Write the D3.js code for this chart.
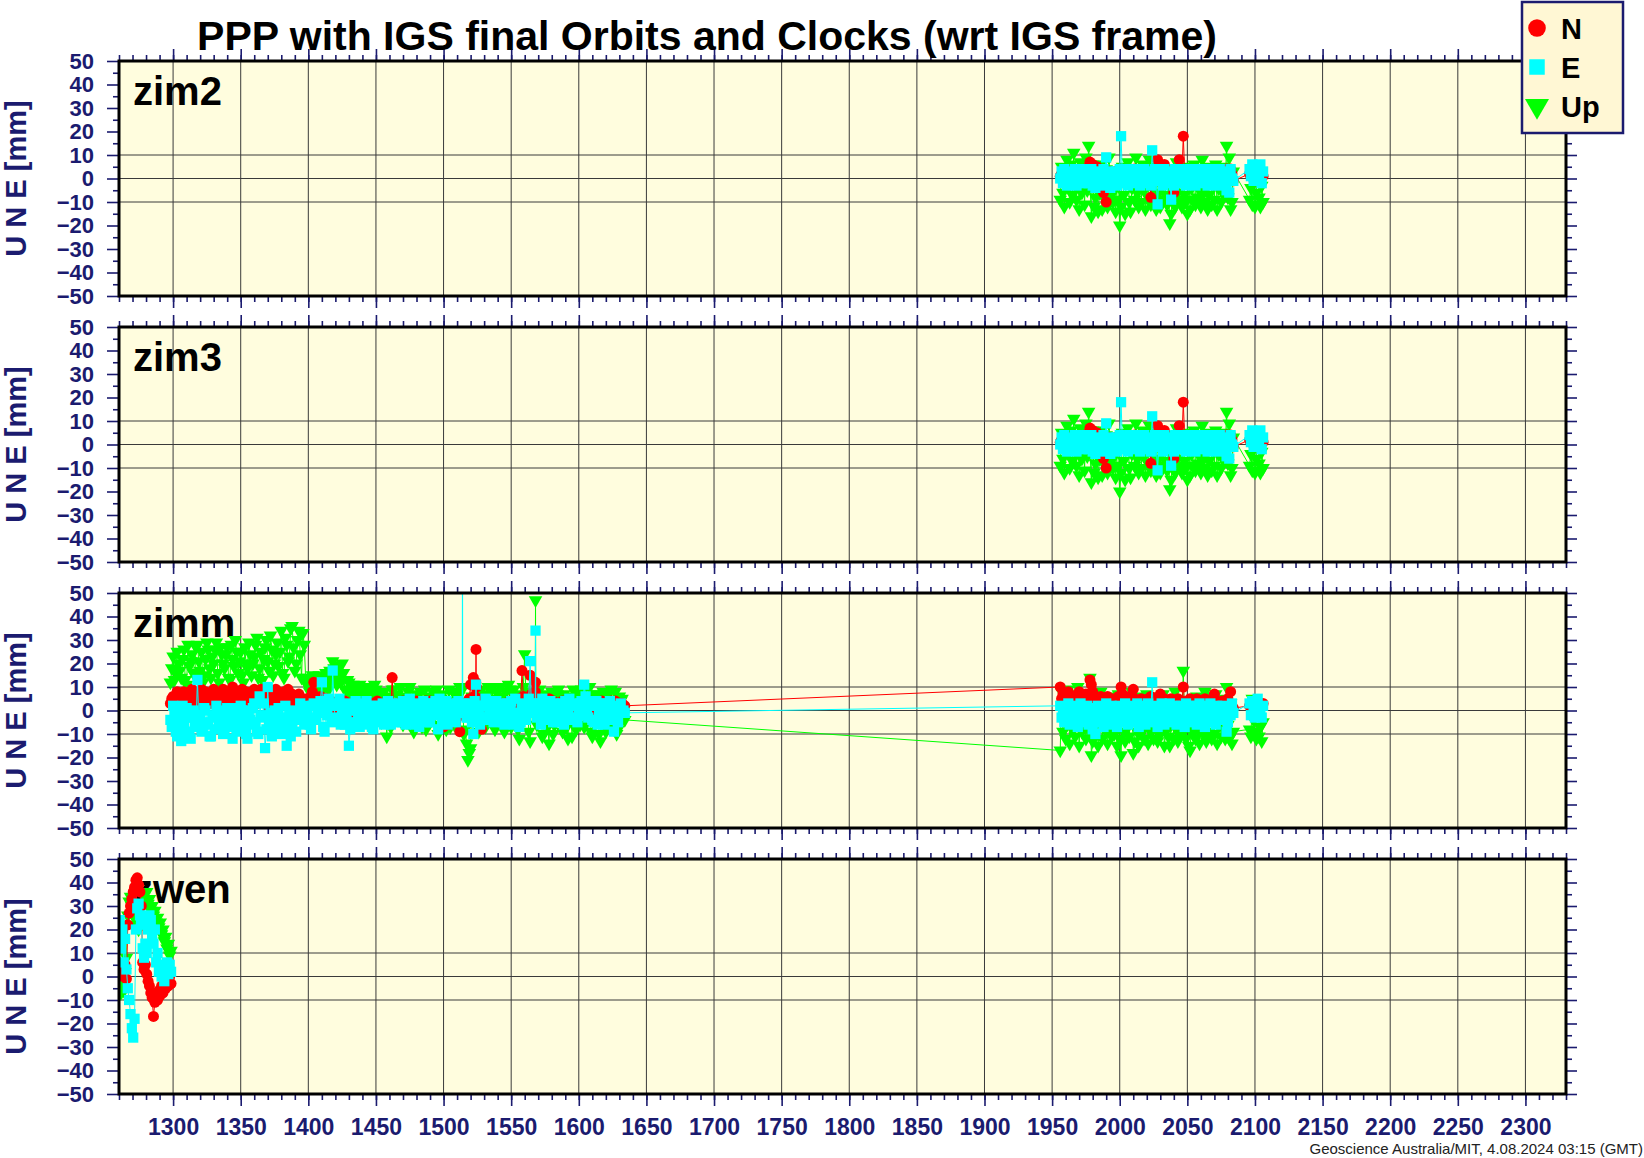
<!DOCTYPE html>
<html>
<head>
<meta charset="utf-8">
<script src="https://cdn.jsdelivr.net/npm/d3@7"></script>
<style>
  body { margin: 0; background: #fff; }
  svg { display: block; }
  text { font-family: "Liberation Sans", Arial, Helvetica, sans-serif; }
</style>
</head>
<body>
<div id="chart"></div>
<script>
// ---- data (GPS week, mm) ----
const stationNames = ['zim2', 'zim3', 'zimm', 'zwen'];
const legendLabels = ['N', 'E', 'Up'];
const xTicks = [1300, 1350, 1400, 1450, 1500, 1550, 1600, 1650, 1700, 1750, 1800, 1850, 1900, 1950, 2000, 2050, 2100, 2150, 2200, 2250, 2300];
const yTicks = [-50, -40, -30, -20, -10, 0, 10, 20, 30, 40, 50];
const yGrid = [-10, 0, 10];

// zim2 / zim3 (same series); these weeks are also the late zimm block
const zimWeeks = [1956, 1957, 1958, 1959, 1960, 1961, 1962, 1963, 1964, 1965,
  1966, 1967, 1968, 1969, 1970, 1971, 1972, 1973, 1974, 1975,
  1976, 1977, 1978, 1979, 1980, 1981, 1982, 1983, 1984, 1985,
  1986, 1987, 1988, 1989, 1990, 1991, 1992, 1993, 1994, 1995,
  1996, 1997, 1998, 1999, 2000, 2001, 2002, 2003, 2004, 2005,
  2006, 2007, 2008, 2009, 2010, 2011, 2012, 2013, 2014, 2015,
  2016, 2017, 2018, 2019, 2020, 2021, 2022, 2023, 2024, 2025,
  2026, 2027, 2028, 2029, 2030, 2031, 2032, 2033, 2034, 2035,
  2036, 2037, 2038, 2039, 2040, 2041, 2042, 2043, 2044, 2045,
  2046, 2047, 2048, 2049, 2050, 2051, 2052, 2053, 2054, 2055,
  2056, 2057, 2058, 2059, 2060, 2061, 2062, 2063, 2064, 2065,
  2066, 2067, 2068, 2069, 2070, 2071, 2072, 2073, 2074, 2075,
  2076, 2077, 2078, 2079, 2080, 2081, 2082, 2083, 2084,
  2096, 2097, 2098, 2099, 2100, 2101, 2102, 2103, 2104, 2105, 2106];
const zimN = [1, 2, 0, 3, 1, 2, 0, 3, -1, 2,
  0, 3, 1, 2, -1, 3, 0, 2, 1, 4,
  2, 5, 7, 3, 6, 4, 2, 5, 3, 1,
  2, 0, -6, 3, -10, 1, 2, 3, 0, 2,
  1, 3, 0, 2, 4, 3, 1, 2, 0, 3,
  2, 1, 3, 0, 2, 4, 1, 3, 2, 0,
  3, 1, 2, 0, 3, 1, 2, -8, 2, 1,
  3, 0, 8, 2, 1, 3, 2, 6, 1, 3,
  2, 0, 1, 3, -6, 2, 1, 3, 8, 4,
  2, 18, 3, 1, 2, 0, 3, 1, 2, 0,
  1, 3, 2, 0, 2, -1, 3, 1, 2, 0,
  3, 1, 2, 0, 3, 2, 1, 0, 2, 3,
  1, 3, 0, 4, 2, 1, 4, 2, -1,
  2, 1, 3, 0, 1, 2, 3, 1, 0, 2, 1];
const zimE = [0, 3, -2, 4, 1, -3, 2, -1, 3, -2,
  1, 4, -3, 2, 0, 3, -2, 4, -1, 1,
  3, -2, 0, 4, -3, 2, -4, 1, 3, -1,
  2, -3, 4, 0, 9, -2, 3, -4, 1, 2,
  -1, 3, -3, 2, 4, 18, 0, -2, 3, 1,
  -3, 4, 0, 2, -2, 3, -1, 4, 1, -3,
  2, 0, 4, -2, 3, -1, 1, -3, 12, 2,
  4, -1, -11, 3, 0, 2, -3, 4, 1, -2,
  3, 0, -9, 2, -3, 4, 1, -1, 3, -2,
  2, 4, 0, -3, 3, 1, -2, 4, 0, 2,
  -3, 3, 1, -2, 4, 0, 2, -1, 3, -3,
  1, 4, -2, 2, 0, 3, -3, 1, 4, -1,
  2, -2, 3, -5, 1, -6, 4, 0, -1,
  4, 1, 6, -1, 3, 5, 0, 2, 6, -2, 3];
const zimU = [-9, 5, -6, -12, 2, 8, -4, -10, 6, -7,
  11, -3, -9, 4, -13, 7, -6, 1, -11, 9,
  -5, 14, -2, -16, 6, -12, -8, 3, -14, -6,
  6, -13, -3, -9, 4, -12, 9, -7, 3, -10,
  -5, -14, 2, -9, -20, -12, 5, -7, -15, 4,
  7, -10, -14, -4, 2, -9, 9, -6, -12, 3,
  -10, 6, -5, -13, 2, -8, 8, -11, -4, 5,
  -8, -13, 3, -6, -12, 5, -9, 4, -7, -11,
  -2, -19, -15, -8, 2, -12, 7, -6, -9, 4,
  -12, 2, -7, -10, -15, 5, -13, -4, -9, 6,
  -11, 3, -8, -5, -12, 8, -6, -10, 4, -13,
  -7, 5, -11, -3, -9, 6, -13, -4, 2, -10,
  5, -7, -3, 14, -8, 9, -13, -10, 3,
  -9, -4, -11, 2, -12, -6, 4, -8, -12, -3, -10];

// zimm, early block, even weeks (GPS weeks 1298-1634)
const zimmEarlyWeeks = [1298, 1300, 1302, 1304, 1306, 1308, 1310, 1312, 1314, 1316,
  1318, 1320, 1322, 1324, 1326, 1328, 1330, 1332, 1334, 1336,
  1338, 1340, 1342, 1344, 1346, 1348, 1350, 1352, 1354, 1356,
  1358, 1360, 1362, 1364, 1366, 1368, 1370, 1372, 1374, 1376,
  1378, 1380, 1382, 1384, 1386, 1388, 1390, 1392, 1394, 1396,
  1398, 1400, 1402, 1404, 1406, 1408, 1410, 1412, 1414, 1416,
  1418, 1420, 1422, 1424, 1426, 1428, 1430, 1432, 1434, 1436,
  1438, 1440, 1442, 1444, 1446, 1448, 1450, 1452, 1454, 1456,
  1458, 1460, 1462, 1464, 1466, 1468, 1470, 1472, 1474, 1476,
  1478, 1480, 1482, 1484, 1486, 1488, 1490, 1492, 1494, 1496,
  1498, 1500, 1502, 1504, 1506, 1508, 1510, 1512, 1513.8, 1514, 1514.2, 1516,
  1518, 1520, 1522, 1523.8, 1524, 1524.2, 1526, 1528, 1530, 1532, 1534, 1536,
  1538, 1540, 1542, 1544, 1546, 1548, 1550, 1552, 1554, 1556,
  1558, 1560, 1562, 1564, 1566, 1567.8, 1568, 1568.2, 1570, 1572, 1574, 1576,
  1578, 1580, 1582, 1584, 1586, 1588, 1590, 1592, 1594, 1596,
  1598, 1600, 1602, 1604, 1606, 1608, 1610, 1612, 1614, 1616,
  1618, 1620, 1622, 1624, 1626, 1628, 1630, 1632, 1634];
const zimmEarlyN = [3, 6, 2, 7, 4, 8, 3, 6, 9, 5,
  2, 7, 4, 8, 6, 3, 9, 5, 7, 2,
  8, 4, 6, 10, 3, 7, 5, 2, 8, 6,
  4, 9, 3, 7, 5, 8, 2, 6, 4, 9,
  5, 3, 8, 6, 2, 7, 4, 6, 3, 5,
  2, 4, 6, 12, 3, 5, 2, 4, 1, 3,
  2, 0, 3, 1, -1, 2, 0, 3, 1, 2,
  0, 3, 1, 2, 0, 3, 1, 2, 0, 3,
  1, 2, 14, 3, 0, 2, 4, 1, 3, 0,
  2, 4, 1, 3, 0, 2, 4, 1, 3, 0,
  2, -7, 1, -6, 3, 0, 2, -9, 2, 3, 3, 1,
  4, 11, 14, 12, 26, 10, 5, -8, 2, 0, 3, 1,
  2, -2, 1, 3, 0, -4, 2, -4, 3, 5,
  17, 5, 4, 15, 6, 8, 12, 5, 2, 3, 1, 4,
  5, 4, 2, 3, 1, 4, 0, 2, 3, 1,
  2, 0, 3, 1, 2, 4, 1, 3, 2, 0,
  3, 1, 2, 4, 1, 3, 2, 3, 2];
const zimmEarlyE = [-4, 2, -9, -1, -13, -6, 1, -10, -3, -7,
  13, -2, -8, 0, -5, -11, -3, 2, -7, -1,
  -9, 1, -5, -12, -2, -7, 2, -4, -10, 0,
  -6, 3, -9, 6, -3, -16, 10, -1, -7, -4,
  1, -10, -5, -15, -2, -8, 0, -4, 3, -3,
  -4, 2, -8, 3, -3, 1, 12, -9, -2, 3,
  17, -4, 2, -6, 1, -3, -15, 2, -5, 0,
  -7, 3, -2, -6, 1, -8, 2, -4, 1, -6,
  0, -3, 3, -5, 1, -2, 4, -6, 0, 2,
  -4, 3, -7, 1, -2, 3, -5, 0, 4, -8,
  1, -3, 4, -2, 2, -4, 3, 1, 2, 75, 1, 2,
  -3, 1, -10, 2, 11, -1, -2, 2, -4, 3, -2, 4,
  -3, 0, 2, -5, 3, -2, 4, -6, -3, -7,
  3, -2, 1, 21, 0, 3, 34, 1, -2, -6, 2, -4,
  1, -2, 3, -5, 0, -3, 4, -1, 2, -4,
  3, -1, 4, 11, -2, 4, -4, 2, -6, 1,
  -3, 3, -2, 1, -9, -2, 2, -1, -1];
const zimmEarlyU = [12, 23, 16, 20, 14, 26, 11, 19, 24, 15,
  28, 17, 12, 22, 26, 14, 20, 29, 12, 24,
  18, 27, 13, 22, 30, 16, 25, 12, 20, 29,
  15, 23, 31, 18, 13, 27, 21, 32, 15, 24,
  19, 34, 14, 28, 23, 36, 17, 30, 24, 33,
  14, 10, 13, 8, 12, 15, 9, 13, 11, 17,
  21, 14, 19, 12, 16, 9, 12, 6, 10, 7,
  11, 5, 8, 4, 10, 6, 9, 3, -5, 8,
  -11, 5, 9, -4, 7, 10, -6, 4, 8, -3,
  -9, 7, 2, -7, 9, 3, -5, 8, 6, -10,
  5, -3, -8, 9, 2, -6, 7, 10, 9, 3, 2, -8,
  -21, -16, 4, 3, 2, 6, -9, 9, -6, 7, -4, 10,
  -8, 5, 10, -5, 8, 11, -7, 9, 4, -12,
  6, 24, 8, -13, 5, 6, 47, 4, 3, 5, -10, 7,
  -14, 8, -6, 7, 3, -9, 6, -12, 4, 9,
  -8, 6, 9, -7, 3, 10, -11, 5, 7, -13,
  8, -9, 4, 9, -6, -10, 6, 5, -4];

// zimm, early block, odd weeks (1299-1633)
const zimmOddWeeks = [1299, 1301, 1303, 1305, 1307, 1309, 1311, 1313, 1315, 1317,
  1319, 1321, 1323, 1325, 1327, 1329, 1331, 1333, 1335, 1337,
  1339, 1341, 1343, 1345, 1347, 1349, 1351, 1353, 1355, 1357,
  1359, 1361, 1363, 1365, 1367, 1369, 1371, 1373, 1375, 1377,
  1379, 1381, 1383, 1385, 1387, 1389, 1391, 1393, 1395, 1397,
  1399, 1401, 1403, 1405, 1407, 1409, 1411, 1413, 1415, 1417,
  1419, 1421, 1423, 1425, 1427, 1429, 1431, 1433, 1435, 1437,
  1439, 1441, 1443, 1445, 1447, 1449, 1451, 1453, 1455, 1457,
  1459, 1461, 1463, 1465, 1467, 1469, 1471, 1473, 1475, 1477,
  1479, 1481, 1483, 1485, 1487, 1489, 1491, 1493, 1495, 1497,
  1499, 1501, 1503, 1505, 1507, 1509, 1511, 1513, 1515, 1517,
  1519, 1521, 1523, 1525, 1527, 1529, 1531, 1533, 1535, 1537,
  1539, 1541, 1543, 1545, 1547, 1549, 1551, 1553, 1555, 1557,
  1559, 1561, 1563, 1565, 1567, 1569, 1571, 1573, 1575, 1577,
  1579, 1581, 1583, 1585, 1587, 1589, 1591, 1593, 1595, 1597,
  1599, 1601, 1603, 1605, 1607, 1609, 1611, 1613, 1615, 1617,
  1619, 1621, 1623, 1625, 1627, 1629, 1631, 1633];
const zimmOddN = [5, 4, 8, 3, 6, 2, 7, 4, 8, 3,
  6, 9, 3, 5, 7, 4, 8, 6, 3, 9,
  5, 7, 3, 8, 6, 4, 9, 3, 7, 5,
  8, 3, 6, 9, 4, 7, 5, 3, 8, 6,
  4, 7, 3, 9, 5, 6, 3, 7, 4, 2,
  5, 3, 8, 4, 2, 6, 3, 5, 2, 4,
  1, 3, 0, 2, 4, 1, -1, 3, 0, 2,
  2, 0, 3, 1, -1, 2, 4, 0, 2, 1,
  3, 0, 2, 1, 3, -1, 2, 4, 0, 2,
  1, 3, 0, 2, 4, 1, -1, 3, 2, 0,
  3, 1, -4, 2, 0, 3, 1, -2, 2, 3,
  5, 3, 6, 2, 1, -3, 3, 1, -1, 2,
  0, 3, 1, -1, 2, 4, 0, 2, -2, 4,
  6, 3, 4, 7, 3, 1, 2, 4, 0, 3,
  2, 4, 1, 3, 0, 2, 4, 1, 3, 2,
  0, 3, 1, 4, 2, 0, 3, 1, 2, 4,
  1, 3, 0, 2, 4, 1, 3, 2];
const zimmOddE = [-7, 0, -11, -5, 2, -9, -3, -12, 0, -6,
  -4, -9, 1, -6, -11, -2, -8, 0, -5, -10,
  -1, -7, -3, 1, -9, -5, 0, -8, -12, -4,
  1, -5, -10, -2, 3, -8, -4, -11, 0, -6,
  -3, -8, 2, -6, -11, -1, -9, -4, 1, -6,
  0, -6, 2, -4, -1, 4, -7, 0, 5, -5,
  2, -3, 5, -1, -6, 3, -8, 0, 4, -4,
  1, -5, 4, -3, -7, 2, 0, -5, 3, -2,
  4, -6, 2, -1, 3, -5, 1, -3, 5, -2,
  -6, 2, -3, 4, -1, -5, 3, -2, 1, 5,
  -4, 2, -6, 3, 0, -5, 4, -1, 3, -3,
  3, -5, 4, -1, -6, 2, 5, -3, 1, -5,
  4, -2, 1, -6, 3, 0, -4, 5, -1, -5,
  2, -4, 5, -1, 3, -3, 2, 5, -4, 0,
  4, -5, 2, -1, 3, -6, 1, 5, -3, 2,
  -5, 3, 0, 6, -3, 2, -5, 4, -1, 3,
  -6, 2, 4, -4, 1, -5, 3, 0];
const zimmOddU = [18, 13, 25, 17, 22, 13, 28, 21, 16, 27,
  21, 25, 15, 29, 18, 23, 26, 16, 27, 20,
  24, 14, 28, 19, 25, 21, 15, 27, 18, 24,
  20, 28, 14, 25, 22, 30, 17, 26, 20, 29,
  25, 16, 31, 21, 35, 27, 20, 34, 14, 28,
  11, 8, 15, 10, 14, 7, 12, 16, 9, 13,
  18, 11, 15, 20, 9, 13, 8, 11, 5, 9,
  7, 10, 2, 8, 5, 11, 1, 7, -3, 6,
  3, -7, 9, 2, -2, 6, 1, -5, 10, -1,
  5, -4, 8, 0, -8, 6, 3, -2, 9, -6,
  7, 0, 4, -7, 8, -3, 6, 1, -10, -14,
  -18, 6, 1, 8, -4, 5, -7, 10, 2, -5,
  8, -3, 6, -9, 4, 9, -4, 7, -8, 2,
  10, 3, -9, 7, 8, -6, 9, -11, 2, -7,
  6, -10, 4, 9, -4, 7, -7, 3, -11, 8,
  2, -6, 8, -3, 5, -9, 7, 1, -10, 6,
  -5, 7, -7, 3, 8, -8, 4, -2];

// zimm, late block (same weeks as zimWeeks)
const zimmLateN = [10, 5, 7, 3, 6, 4, 8, 2, 5, 3,
  6, 4, 2, 5, 8, 3, 6, 1, 4, 7,
  3, 5, 13, 11, 8, 4, 6, 2, 5, 3,
  6, 4, 2, 5, 3, 6, 4, 1, 5, 3,
  2, 5, 3, 6, 4, 10, 7, 4, 2, 5,
  3, 6, 2, 4, 9, 5, 3, 1, 4, 2,
  5, 3, 1, 4, 2, 5, 3, 6, 2, 4,
  1, 3, 5, 2, 7, 4, 2, 5, 3, 1,
  4, 2, 5, 3, 1, 4, 2, 5, 3, 2,
  4, 10, 3, 1, 4, 2, 5, 3, 1, 4,
  2, 5, 3, 1, 4, 2, 3, 5, 1, 3,
  2, 4, 1, 3, 7, 2, 4, 1, 3, 2,
  4, 1, 3, 2, 5, 3, 8, 2, 1,
  2, 3, 1, 2, 3, 1, 2, 3, 1, 2, 3];
const zimmLateE = [2, -3, 1, -5, 0, -2, 3, -6, -1, 1,
  -4, 2, -2, -7, 0, 3, -5, 1, -3, -1,
  2, -6, 0, -3, -8, 1, -10, -4, 2, -2,
  -5, 1, -7, -2, 3, -4, 0, -6, 2, -1,
  -3, 1, -7, -4, 2, -2, 0, -5, 3, -1,
  -6, 1, -3, 2, -5, 0, -2, 3, -7, -1,
  1, -4, 2, -6, -1, 3, -3, 0, 12, -5,
  2, -2, -7, 1, -4, 3, 0, -6, 2, -3,
  -1, 3, -5, 0, -2, 2, -6, 1, -3, 2,
  -4, 0, -7, 3, -2, 1, -5, 2, -1, -3,
  2, -6, 0, 3, -4, 1, -2, -7, 2, 0,
  -3, 3, -5, 1, -1, -6, 2, -2, 0, -4,
  2, -3, 1, -9, -5, 0, -2, 3, -1,
  3, -2, 4, 0, -3, 2, 5, -1, 1, -3, 2];
const zimmLateU = [-17, 8, -9, 4, -12, -6, 9, -14, 2, -8,
  7, -11, -3, 10, -15, 5, -9, -6, 3, -12,
  6, -8, 14, -19, -13, 4, -10, 7, -15, -5,
  8, -12, -4, 5, -9, -14, 3, -7, -11, 6,
  -10, -4, -15, 7, -12, -19, 2, -9, -13, 5,
  -7, -11, -4, 8, -18, -13, 6, -9, -15, 3,
  -10, 4, -12, -6, 7, -14, -3, -9, 5, -12,
  6, -8, -13, 2, -10, -4, 7, -15, -9, 3,
  -11, -15, -6, 3, -12, 8, -8, -13, 2, -10,
  -5, 17, -8, -12, 3, -15, -17, -7, -10, 4,
  -12, 6, -8, -14, 3, -5, -10, 8, -13, -4,
  -9, 6, -12, -3, -10, 7, -14, -6, 3, -11,
  5, -8, -12, 10, -6, -12, 3, -14, -9,
  -8, -11, 5, -4, -9, -12, 2, -11, -7, -13, -5];

// zwen
const zwenWeeks = [1260.5, 1261.5, 1262.5, 1263.5, 1264.5, 1265.5, 1266.5, 1267.5, 1268.5, 1269.5, 1270.5, 1271.5, 1272.5,
  1273.5, 1274.5, 1275.5, 1276.5, 1277.5, 1278.5, 1279.5, 1280.5, 1281.5, 1282.5, 1283.5, 1284.5, 1285.5, 1286.5,
  1287.5, 1288.5, 1289.5, 1290.5, 1291.5, 1292.5, 1293.5, 1294.5, 1295.5, 1296.5, 1297.5, 1298.5];
const zwenN = [3, 1, 4, 0, 5, -1, 22, 27, 30, 33, 36, 38, 41, 42, 39, 36, 30, 6, 3, 5,
  1, -2, -4, -7, -9, -17, -11, -8, -10, -6, -8, -4, -7, -3, -5, -2, -4, 0, -3];
const zwenE = [24, 12, 20, 6, 16, 3, -5, -10, -16, -22, -26, -18, 20, 29, 31, 26, 22, 12, 8, 14,
  10, 20, 26, 24, 18, 14, 20, 6, 10, 2, 5, 0, 4, -2, 3, 6, 1, 5, 2];
const zwenU = [-3, -7, -2, -6, 2, 8, 26, 32, 34, 30, 27, 25, 24, 22, 20, 23, 26, 30, 35, 33,
  36, 31, 33, 28, 30, 26, 28, 23, 25, 21, 23, 18, 20, 15, 17, 12, 14, 9, 11];

// ---- layout ----
const W = 1644, H = 1158;
const panelTops = [61, 327, 593, 859];
const panelH = 235;
const navy = '#1b1b6f';
const colors = { N: '#ff0000', E: '#00ffff', U: '#00ff00' };

const stations = [
  { name: stationNames[0], parts: [{ weeks: zimWeeks, N: zimN, E: zimE, U: zimU }] },
  { name: stationNames[1], parts: [{ weeks: zimWeeks, N: zimN, E: zimE, U: zimU }] },
  { name: stationNames[2], parts: [
    { weeks: zimmEarlyWeeks, N: zimmEarlyN, E: zimmEarlyE, U: zimmEarlyU },
    { weeks: zimmOddWeeks, N: zimmOddN, E: zimmOddE, U: zimmOddU },
    { weeks: zimWeeks, N: zimmLateN, E: zimmLateE, U: zimmLateU }] },
  { name: stationNames[3], parts: [{ weeks: zwenWeeks, N: zwenN, E: zwenE, U: zwenU }] },
];

// merge the parts of one component into time order
function seriesPoints(st, key) {
  const pts = [];
  st.parts.forEach(p => p.weeks.forEach((w, j) => pts.push([w, p[key][j]])));
  return pts.sort((a, b) => a[0] - b[0]);
}

const x = d3.scaleLinear().domain([1260, 2330]).range([119, 1566]);
const [x0, x1] = x.range();

const svg = d3.select('#chart').append('svg').attr('width', W).attr('height', H);
svg.append('rect').attr('width', W).attr('height', H).attr('fill', '#fff');

const symCircle = d3.symbol(d3.symbolCircle, Math.PI * 5.5 * 5.5)();
const symSquare = d3.symbol(d3.symbolSquare, 105)();
const symTri = d3.symbol(d3.symbolTriangle, 80)();

function styleAxis(g) {
  g.select('.domain').remove();
  g.selectAll('.tick line').attr('stroke', navy).attr('stroke-width', 1.6);
  g.selectAll('.tick text').attr('fill', navy).attr('font-weight', 'bold');
}

function drawPanel(st, i) {
  const top = panelTops[i];
  const y = d3.scaleLinear().domain([-50, 50]).range([top + panelH, top]);
  const g = svg.append('g');

  g.append('rect').attr('x', x0).attr('y', top).attr('width', x1 - x0).attr('height', panelH).attr('fill', '#fffdde');

  // grid
  g.append('g').selectAll('line').data(xTicks).enter().append('line')
    .attr('x1', d => x(d)).attr('x2', d => x(d)).attr('y1', top).attr('y2', top + panelH)
    .attr('stroke', '#3a3a3a').attr('stroke-width', 1);
  g.append('g').selectAll('line').data(yGrid).enter().append('line')
    .attr('x1', x0).attr('x2', x1).attr('y1', d => y(d)).attr('y2', d => y(d))
    .attr('stroke', '#3a3a3a').attr('stroke-width', 1);

  // station label (the data sits on top of it)
  g.append('text').attr('x', 133).attr('y', top + 44).attr('font-size', 40).attr('font-weight', 'bold')
    .attr('fill', '#000').text(st.name);

  // data
  const clipId = 'clip' + i;
  svg.append('clipPath').attr('id', clipId).append('rect')
    .attr('x', x0).attr('y', top).attr('width', x1 - x0).attr('height', panelH);
  const dg = g.append('g').attr('clip-path', `url(#${clipId})`);
  const line = d3.line().x(d => x(d[0])).y(d => y(d[1]));
  const series = [
    { key: 'U', sym: symTri, rot: ' rotate(180)' },
    { key: 'N', sym: symCircle, rot: '' },
    { key: 'E', sym: symSquare, rot: '' },
  ];
  series.forEach(s => {
    const pts = seriesPoints(st, s.key);
    dg.append('path').datum(pts).attr('d', line).attr('fill', 'none')
      .attr('stroke', colors[s.key]).attr('stroke-width', 1);
    dg.append('g').selectAll('path').data(pts).enter().append('path')
      .attr('d', s.sym).attr('fill', colors[s.key])
      .attr('transform', d => `translate(${x(d[0])},${y(d[1])})${s.rot}`);
  });

  // axes
  const minorX = d3.range(1260, 2331, 10);
  const minorY = d3.range(-45, 50, 10);
  g.append('g').attr('transform', `translate(0,${top})`)
    .call(d3.axisTop(x).tickValues(minorX).tickSize(6).tickFormat('')).call(styleAxis);
  g.append('g').attr('transform', `translate(0,${top})`)
    .call(d3.axisTop(x).tickValues(xTicks).tickSize(12).tickFormat('')).call(styleAxis);
  g.append('g').attr('transform', `translate(0,${top + panelH})`)
    .call(d3.axisBottom(x).tickValues(minorX).tickSize(6).tickFormat('')).call(styleAxis);
  const bx = g.append('g').attr('transform', `translate(0,${top + panelH})`)
    .call(d3.axisBottom(x).tickValues(xTicks).tickSize(12).tickPadding(13)
      .tickFormat(i === stations.length - 1 ? d3.format('d') : ''))
    .call(styleAxis);
  bx.selectAll('.tick text').attr('font-size', 23);

  const ly = g.append('g').attr('transform', `translate(${x0},0)`)
    .call(d3.axisLeft(y).tickValues(yTicks).tickSize(12).tickPadding(13).tickFormat(d3.format('d')))
    .call(styleAxis);
  ly.selectAll('.tick text').attr('font-size', 22);
  g.append('g').attr('transform', `translate(${x0},0)`)
    .call(d3.axisLeft(y).tickValues(minorY).tickSize(6).tickFormat('')).call(styleAxis);
  g.append('g').attr('transform', `translate(${x1},0)`)
    .call(d3.axisRight(y).tickValues(yTicks).tickSize(11).tickFormat('')).call(styleAxis);
  g.append('g').attr('transform', `translate(${x1},0)`)
    .call(d3.axisRight(y).tickValues(minorY).tickSize(6).tickFormat('')).call(styleAxis);

  // frame
  g.append('rect').attr('x', x0).attr('y', top).attr('width', x1 - x0).attr('height', panelH)
    .attr('fill', 'none').attr('stroke', '#000').attr('stroke-width', 3);

  // y title
  g.append('text').attr('transform', `translate(26,${top + panelH / 2}) rotate(-90)`)
    .attr('text-anchor', 'middle').attr('font-size', 29).attr('font-weight', 'bold')
    .attr('fill', navy).text('U N E [mm]');
}

stations.forEach(drawPanel);

// title
svg.append('text').attr('x', 707).attr('y', 50).attr('text-anchor', 'middle')
  .attr('font-size', 41).attr('font-weight', 'bold').attr('fill', '#000')
  .text('PPP with IGS final Orbits and Clocks (wrt IGS frame)');

// legend
const lg = svg.append('g');
lg.append('rect').attr('x', 1522).attr('y', 2).attr('width', 101).attr('height', 131)
  .attr('fill', '#fff7d4').attr('stroke', navy).attr('stroke-width', 2.5);
const legendSyms = [
  { sym: d3.symbol(d3.symbolCircle, Math.PI * 8.8 * 8.8)(), color: colors.N, rot: '' },
  { sym: d3.symbol(d3.symbolSquare, 240)(), color: colors.E, rot: '' },
  { sym: d3.symbol(d3.symbolTriangle, 250)(), color: colors.U, rot: ' rotate(180)' },
];
const legendY = [28, 67, 106];
legendLabels.forEach((lab, k) => {
  lg.append('path').attr('d', legendSyms[k].sym).attr('fill', legendSyms[k].color)
    .attr('transform', `translate(1537,${legendY[k]})${legendSyms[k].rot}`);
  lg.append('text').attr('x', 1561).attr('y', legendY[k] + 11).attr('font-size', 29)
    .attr('font-weight', 'bold').attr('fill', '#000').text(lab);
});

// footer
svg.append('text').attr('x', 1643).attr('y', 1154).attr('text-anchor', 'end')
  .attr('font-size', 15).attr('fill', '#222')
  .text('Geoscience Australia/MIT, 4.08.2024 03:15 (GMT)');
</script>
</body>
</html>
